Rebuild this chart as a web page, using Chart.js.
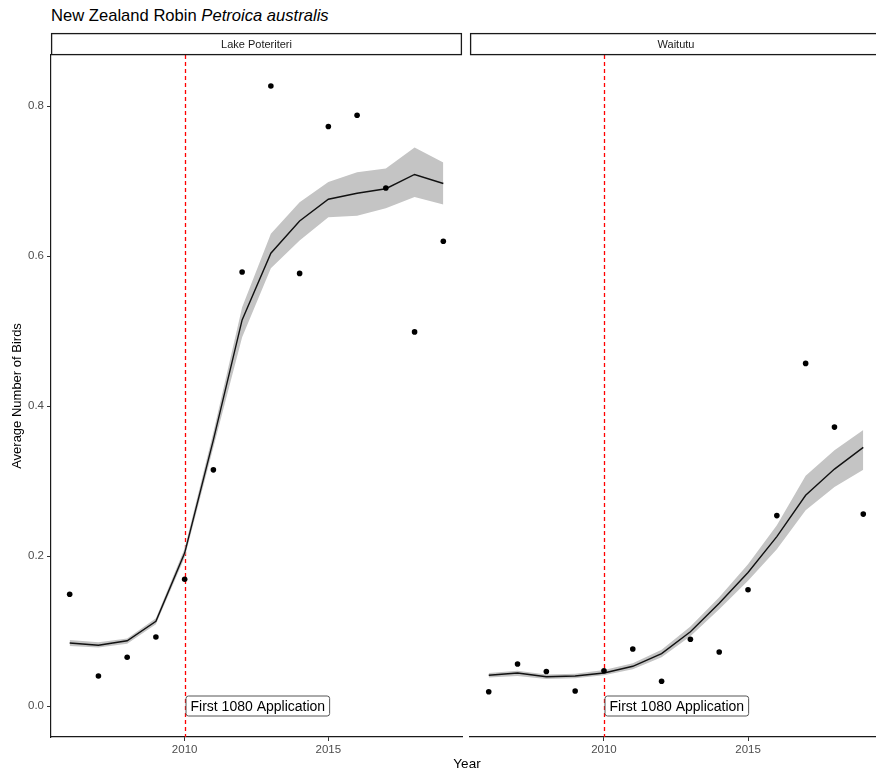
<!DOCTYPE html>
<html>
<head>
<meta charset="utf-8">
<title>New Zealand Robin</title>
<script src="https://cdn.jsdelivr.net/npm/chart.js@4.4.1/dist/chart.umd.min.js"></script>
<style>
  html, body { margin: 0; padding: 0; background: #fff; overflow: hidden; }
  body { width: 876px; height: 776px; position: relative; font-family: "Liberation Sans", Arial, sans-serif; }
  .title { position: absolute; left: 51px; top: 6px; font-size: 16.6px; line-height: 20px; color: #000; white-space: nowrap; }
  .xlab { position: absolute; left: 0; width: 934px; top: 755px; text-align: center; font-size: 13.5px; line-height: 18px; color: #000; }
  canvas { position: absolute; top: 0; }
  #left { left: 0; }
  #right { left: 466px; }
</style>
</head>
<body>
<div class="title">New Zealand Robin <i>Petroica australis</i></div>
<canvas id="left" width="466" height="776"></canvas>
<canvas id="right" width="420" height="776"></canvas>
<div class="xlab">Year</div>

<script>
const years = [2006, 2007, 2008, 2009, 2010, 2011, 2012, 2013, 2014, 2015, 2016, 2017, 2018, 2019];

// Lake Poteriteri: yearly means and the smoothed trend with its band
const poteriteriObs = [0.149, 0.040, 0.065, 0.092, 0.169, 0.315, 0.579, 0.827, 0.577, 0.773, 0.788, 0.691, 0.499, 0.620];
const poteriteriFit = [0.084, 0.081, 0.087, 0.113, 0.204, 0.355, 0.515, 0.604, 0.647, 0.676, 0.684, 0.690, 0.709, 0.697];
const poteriteriLo  = [0.080, 0.078, 0.083, 0.109, 0.198, 0.345, 0.492, 0.584, 0.621, 0.652, 0.654, 0.664, 0.679, 0.669];
const poteriteriHi  = [0.088, 0.085, 0.090, 0.117, 0.210, 0.365, 0.532, 0.630, 0.672, 0.699, 0.712, 0.717, 0.745, 0.725];

// Waitutu
const waitutuObs = [0.019, 0.056, 0.046, 0.020, 0.047, 0.076, 0.033, 0.089, 0.072, 0.155, 0.254, 0.457, 0.372, 0.256];
const waitutuFit = [0.041, 0.044, 0.039, 0.040, 0.044, 0.053, 0.070, 0.099, 0.137, 0.178, 0.226, 0.281, 0.316, 0.345];
const waitutuLo  = [0.038, 0.040, 0.036, 0.037, 0.041, 0.049, 0.065, 0.093, 0.129, 0.167, 0.209, 0.261, 0.292, 0.315];
const waitutuHi  = [0.044, 0.047, 0.042, 0.043, 0.048, 0.057, 0.075, 0.106, 0.145, 0.189, 0.241, 0.307, 0.341, 0.368];

const facets = ['Lake Poteriteri', 'Waitutu'];
const xTicks = [2010, 2015];
const yTicks = [0, 0.2, 0.4, 0.6, 0.8];
const dropYear = 2010;
const dropLabel = 'First 1080 Application';

const FONT = '"Liberation Sans", Arial, sans-serif';
Chart.defaults.font.family = FONT;
Chart.defaults.animation = false;

// shared axis limits, padded 5% like ggplot
const xPad = (years[years.length - 1] - years[0]) * 0.05;
const xMin = years[0] - xPad, xMax = years[years.length - 1] + xPad;
const yTop = Math.max(...poteriteriObs, ...waitutuObs);
const yPad = yTop * 0.05;
const yMin = 0 - yPad, yMax = yTop + yPad;

function pts(vals) {
  return years.map((yr, i) => ({ x: yr, y: vals[i] }));
}

// facet strip above the panel
const stripPlugin = {
  id: 'strip',
  afterDraw(chart, args, opts) {
    const { ctx, chartArea: a } = chart;
    ctx.save();
    ctx.fillStyle = '#fff';
    ctx.strokeStyle = '#1a1a1a';
    ctx.lineWidth = 1.3;
    ctx.fillRect(a.left, 33, a.right - a.left, 22);
    ctx.strokeRect(a.left + 0.6, 33.6, a.right - a.left - 1.2, 21);
    ctx.fillStyle = '#1a1a1a';
    ctx.font = '11px ' + FONT;
    ctx.textAlign = 'center';
    ctx.textBaseline = 'middle';
    ctx.fillText(opts.text, (a.left + a.right) / 2, 44.5);
    ctx.restore();
  }
};

// red dashed marker at the first drop, plus its boxed label
const dropPlugin = {
  id: 'drop',
  beforeDatasetsDraw(chart) {
    const { ctx, chartArea: a, scales } = chart;
    const x = Math.round(scales.x.getPixelForValue(dropYear)) + 0.5;
    ctx.save();
    ctx.strokeStyle = '#ff0000';
    ctx.lineWidth = 1.3;
    ctx.setLineDash([4, 3]);
    ctx.beginPath();
    ctx.moveTo(x, a.top);
    ctx.lineTo(x, a.bottom);
    ctx.stroke();
    ctx.restore();
  },
  afterDatasetsDraw(chart) {
    const { ctx, scales } = chart;
    const x = Math.round(scales.x.getPixelForValue(dropYear)) + 0.5;
    const y = scales.y.getPixelForValue(0);
    ctx.save();
    ctx.font = '14px ' + FONT;
    const w = ctx.measureText(dropLabel).width + 9;
    const h = 20;
    ctx.beginPath();
    ctx.roundRect(x + 0.5, y - h / 2, w, h, 2.5);
    ctx.fillStyle = '#fff';
    ctx.fill();
    ctx.strokeStyle = '#555';
    ctx.lineWidth = 1;
    ctx.stroke();
    ctx.fillStyle = '#000';
    ctx.textBaseline = 'middle';
    ctx.fillText(dropLabel, x + 5, y + 1);
    ctx.restore();
  }
};

function makeChart(id, name, obs, fit, lo, hi, showY) {
  return new Chart(document.getElementById(id), {
    type: 'line',
    data: {
      datasets: [
        { data: pts(obs), showLine: false, pointRadius: 2.8, pointBackgroundColor: '#000', pointBorderWidth: 0, order: 1 },
        { data: pts(fit), borderColor: '#111', borderWidth: 1.4, pointRadius: 0, fill: false, order: 2 },
        { data: pts(hi), borderWidth: 0, pointRadius: 0, fill: '+1', backgroundColor: '#c4c4c4', order: 3 },
        { data: pts(lo), borderWidth: 0, pointRadius: 0, fill: false, order: 4 }
      ]
    },
    options: {
      responsive: false,
      events: [],
      layout: { padding: showY ? { top: 55, right: 3, bottom: 0, left: 0 } : { top: 55, right: 4, bottom: 0, left: 4 } },
      plugins: {
        legend: { display: false },
        tooltip: { enabled: false },
        strip: { text: name }
      },
      scales: {
        x: {
          type: 'linear',
          min: xMin,
          max: xMax,
          afterBuildTicks: s => { s.ticks = xTicks.map(v => ({ value: v })); },
          afterFit: s => { s.height = 39; },
          grid: { display: true, drawOnChartArea: false, drawTicks: true, tickLength: 4, color: '#333', lineWidth: 1 },
          border: { display: true, color: '#1a1a1a', width: 1.2 },
          ticks: { color: '#4d4d4d', font: { size: 11.5 }, padding: 2, maxRotation: 0, callback: v => String(v) }
        },
        y: {
          type: 'linear',
          display: showY,
          min: yMin,
          max: yMax,
          afterBuildTicks: s => { s.ticks = yTicks.map(v => ({ value: v })); },
          afterFit: s => { s.width = showY ? 51 : 0; },
          grid: { display: true, drawOnChartArea: false, drawTicks: true, tickLength: 4, color: '#333', lineWidth: 1 },
          border: { display: true, color: '#1a1a1a', width: 1.2 },
          ticks: { color: '#4d4d4d', font: { size: 11.5 }, padding: 3, callback: v => v.toFixed(1) },
          title: { display: true, text: 'Average Number of Birds', color: '#000', font: { size: 13 }, padding: { top: 10, bottom: 0 } }
        }
      }
    },
    plugins: [stripPlugin, dropPlugin]
  });
}

makeChart('left', facets[0], poteriteriObs, poteriteriFit, poteriteriLo, poteriteriHi, true);
makeChart('right', facets[1], waitutuObs, waitutuFit, waitutuLo, waitutuHi, false);
</script>
</body>
</html>
